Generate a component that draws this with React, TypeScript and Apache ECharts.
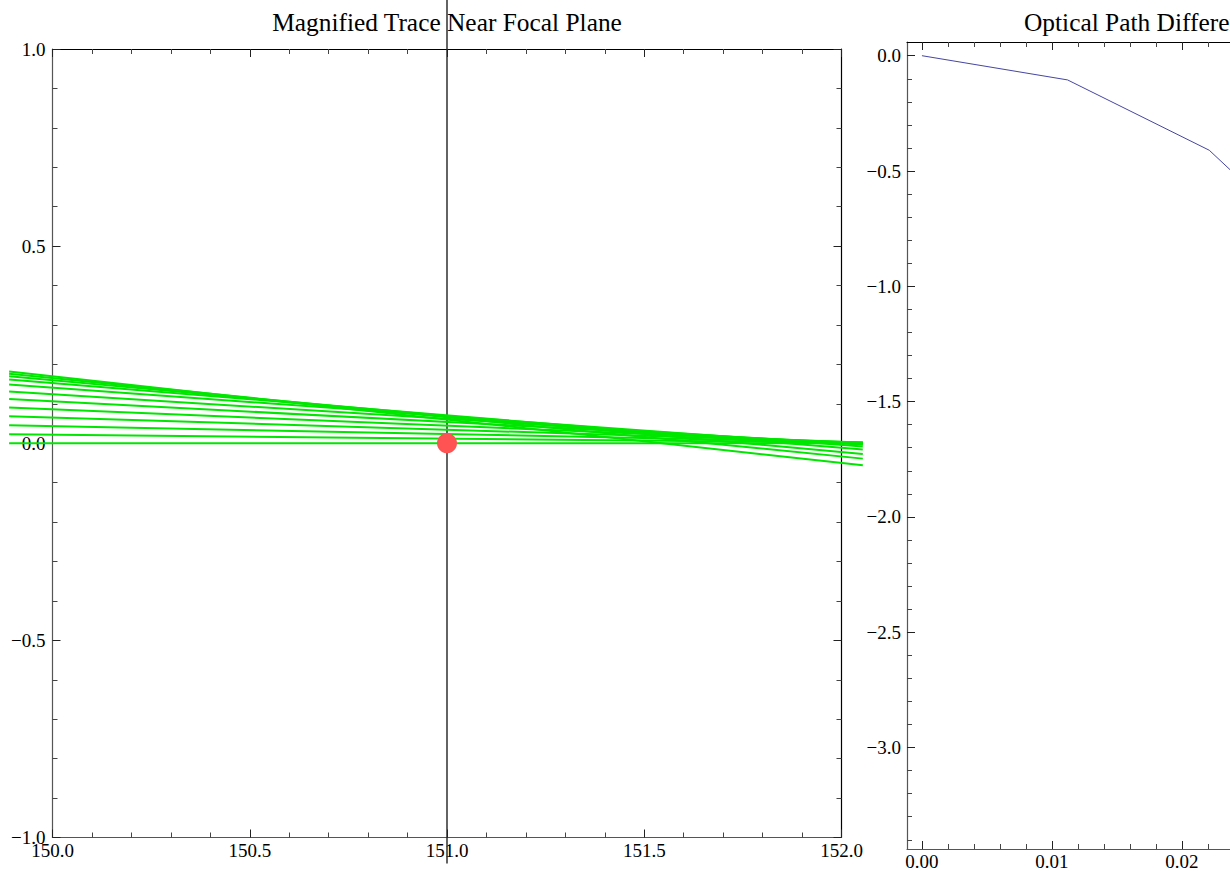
import React, { useEffect, useRef } from "react";
import * as echarts from "echarts";

// ---- Data: magnified trace near focal plane ----
const RAY_X = [149.89, 152.054];
const RAY_START = [0, 0.0228, 0.0457, 0.0685, 0.0906, 0.112, 0.131, 0.149, 0.162, 0.17, 0.176, 0.182];
const RAY_END = [0, 0.0015, 0.002, 0.002, 0.001, -0.001, -0.004, -0.008, -0.016, -0.027, -0.039, -0.056];
const FOCUS_X = 151;
const FOCUS_LINE_Y = [1.124, -1.066];
const FOCUS_POINT = [151, 0];

// ---- Data: optical path difference ----
const OPD_X = [0, 0.0112, 0.0221, 0.0331, 0.0442, 0.0552];
const OPD_Y = [0, -0.105, -0.41, -0.99, -1.95, -3.37];

// ---- Tick values ----
const OPD_X_MAJOR = [0, 0.01, 0.02, 0.03, 0.04, 0.05];
const OPD_X_LABELS = [0, 0.01, 0.02]; // labels visible in the picture
const OPD_Y_MAJOR = [0, -0.5, -1, -1.5, -2, -2.5, -3];
const OPD_X_MINOR: number[] = [];
for (let i = 1; i <= 28; i++) if (i % 5 !== 0) OPD_X_MINOR.push(+(i * 0.002).toFixed(3));
const OPD_Y_MINOR: number[] = [];
for (let i = 1; i <= 34; i++) if (i % 5 !== 0) OPD_Y_MINOR.push(-+(i * 0.1).toFixed(1));

const FONT = "Liberation Serif";
const minus = (s: string) => s.replace("-", "\u2212");

// layout of the left panel
const L_LEFT = 52.5, L_TOP = 49, L_W = 789, L_H = 788.5;
const L_XMIN = 150, L_XMAX = 152;

export default function App() {
  const ref = useRef<HTMLDivElement>(null);
  useEffect(() => {
    if (!ref.current) return;
    const chart = echarts.init(ref.current, undefined, { renderer: "svg" });

    const labelStyle = { fontFamily: FONT, fontSize: 19, color: "#000" };
    const gridAxisLine = (color: string) => ({ show: true, onZero: false, lineStyle: { color, width: 1.2 } });

    const leftX = (pos: "bottom" | "top") => ({
      type: "value",
      gridIndex: 0,
      position: pos,
      min: L_XMIN,
      max: L_XMAX,
      interval: 0.5,
      axisLine: gridAxisLine(pos === "bottom" ? "#555" : "#000"),
      axisTick: { show: true, inside: true, length: 8, lineStyle: { color: "#222" } },
      minorTick: { show: true, splitNumber: 5, length: 5, lineStyle: { color: "#444" } },
      splitLine: { show: false },
      minorSplitLine: { show: false },
      axisLabel: pos === "bottom"
        ? { show: true, margin: 3, formatter: (v: number) => v.toFixed(1), ...labelStyle }
        : { show: false },
    });
    const leftY = (pos: "left" | "right") => ({
      type: "value",
      gridIndex: 0,
      position: pos,
      min: -1,
      max: 1,
      interval: 0.5,
      axisLine: gridAxisLine(pos === "left" ? "#555" : "#000"),
      axisTick: { show: true, inside: true, length: 8, lineStyle: { color: "#222" } },
      minorTick: { show: true, splitNumber: 5, length: 5, lineStyle: { color: "#444" } },
      splitLine: { show: false },
      minorSplitLine: { show: false },
      axisLabel: pos === "left"
        ? { show: true, margin: 7, formatter: (v: number) => minus(v.toFixed(1)), ...labelStyle }
        : { show: false },
    });

    const RX_MIN = -0.00115, RX_MAX = 0.05635, RY_MIN = -3.44, RY_MAX = 0.0594;
    const rightX = (pos: "bottom" | "top", major: boolean) => ({
      type: "value",
      gridIndex: 1,
      position: pos,
      min: RX_MIN,
      max: RX_MAX,
      axisLine: major ? gridAxisLine(pos === "bottom" ? "#555" : "#000") : { show: false, onZero: false },
      axisTick: {
        show: true,
        inside: true,
        length: major ? 8 : 5,
        customValues: major ? OPD_X_MAJOR : OPD_X_MINOR,
        lineStyle: { color: major ? "#222" : "#444" },
      },
      splitLine: { show: false },
      axisLabel: major && pos === "bottom"
        ? { show: true, margin: 3, customValues: OPD_X_LABELS, formatter: (v: number) => v.toFixed(2), ...labelStyle }
        : { show: false },
    });
    const rightY = (pos: "left" | "right", major: boolean) => ({
      type: "value",
      gridIndex: 1,
      position: pos,
      min: RY_MIN,
      max: RY_MAX,
      axisLine: major ? gridAxisLine(pos === "left" ? "#555" : "#000") : { show: false, onZero: false },
      axisTick: {
        show: true,
        inside: true,
        length: major ? 8 : 5,
        customValues: major ? OPD_Y_MAJOR : OPD_Y_MINOR,
        lineStyle: { color: major ? "#222" : "#444" },
      },
      splitLine: { show: false },
      axisLabel: major && pos === "left"
        ? { show: true, margin: 6, customValues: OPD_Y_MAJOR, formatter: (v: number) => minus(v.toFixed(1)), ...labelStyle }
        : { show: false },
    });

    // an invisible overlay grid sharing the left panel's scale, wide enough for the rays' full extent
    const pxPerUnit = L_W / (L_XMAX - L_XMIN);
    const rayGrid = {
      left: L_LEFT + (RAY_X[0] - L_XMIN) * pxPerUnit,
      width: (RAY_X[1] - RAY_X[0]) * pxPerUnit,
      top: L_TOP,
      height: L_H,
      containLabel: false,
    };
    const hiddenAxis = (min: number, max: number) => ({
      type: "value",
      gridIndex: 2,
      min,
      max,
      show: false,
      axisLine: { show: false, onZero: false },
      splitLine: { show: false },
    });

    const raySeries = RAY_START.map((h, i) => ({
      type: "line",
      xAxisIndex: 6,
      yAxisIndex: 6,
      data: [[RAY_X[0], h], [RAY_X[1], RAY_END[i]]],
      showSymbol: false,
      symbol: "none",
      clip: false,
      silent: true,
      z: 3,
      lineStyle: { color: "#00e600", width: 2 },
    }));

    const option: any = {
      animation: false,
      backgroundColor: "#fff",
      grid: [
        { left: L_LEFT, top: L_TOP, width: L_W, height: L_H, containLabel: false },
        { left: 907, top: 42, width: 747.5, height: 807, containLabel: false },
        rayGrid,
      ],
      xAxis: [
        leftX("bottom"),
        leftX("top"),
        rightX("bottom", true),
        rightX("bottom", false),
        rightX("top", true),
        rightX("top", false),
        hiddenAxis(RAY_X[0], RAY_X[1]),
      ],
      yAxis: [
        leftY("left"),
        leftY("right"),
        rightY("left", true),
        rightY("left", false),
        rightY("right", true),
        rightY("right", false),
        hiddenAxis(-1, 1),
      ],
      graphic: [
        {
          type: "text",
          x: 447,
          y: 22,
          style: { text: "Magnified Trace Near Focal Plane", fontFamily: FONT, fontSize: 25.4, fill: "#000", align: "center", verticalAlign: "middle" },
        },
        {
          type: "text",
          x: 1024,
          y: 22,
          style: { text: "Optical Path Difference", fontFamily: FONT, fontSize: 25.4, fill: "#000", align: "left", verticalAlign: "middle" },
        },
      ],
      series: [
        {
          type: "line",
          xAxisIndex: 0,
          yAxisIndex: 0,
          data: FOCUS_LINE_Y.map((y) => [FOCUS_X, y]),
          showSymbol: false,
          symbol: "none",
          clip: false,
          silent: true,
          z: 2,
          lineStyle: { color: "#222", width: 1.4 },
        },
        ...raySeries,
        {
          type: "scatter",
          xAxisIndex: 0,
          yAxisIndex: 0,
          data: [FOCUS_POINT],
          symbolSize: 20,
          clip: false,
          silent: true,
          z: 4,
          itemStyle: { color: "#ff5252", opacity: 1 },
        },
        {
          type: "line",
          xAxisIndex: 2,
          yAxisIndex: 2,
          data: OPD_X.map((x, i) => [x, OPD_Y[i]]),
          showSymbol: false,
          symbol: "none",
          silent: true,
          z: 3,
          lineStyle: { color: "#4545a0", width: 1 },
        },
      ],
    };
    chart.setOption(option);
    return () => chart.dispose();
  }, []);

  return (
    <div style={{ position: "fixed", left: 0, top: 0, width: 1230, height: 871, overflow: "hidden", background: "#fff" }}>
      <div ref={ref} style={{ width: 1700, height: 871 }} />
    </div>
  );
}
